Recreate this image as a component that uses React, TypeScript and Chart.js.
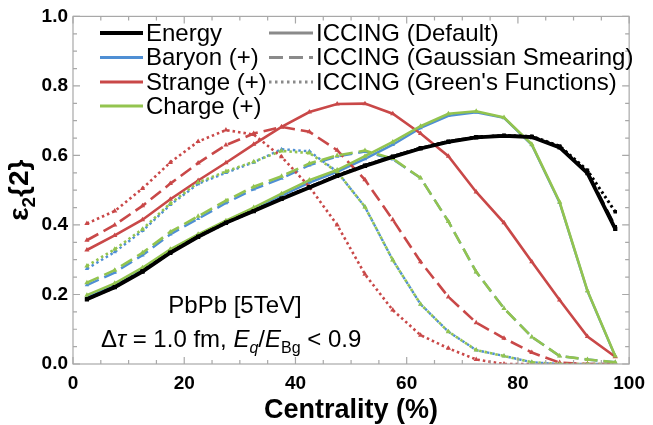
import { useEffect, useRef } from "react";
import { Chart, registerables } from "chart.js";

Chart.register(...registerables);

// Centrality bin centres (%)
const centrality = [2.5, 7.5, 12.5, 17.5, 22.5, 27.5, 32.5, 37.5, 42.5, 47.5, 52.5, 57.5, 62.5, 67.5, 72.5, 77.5, 82.5, 87.5, 92.5, 97.5];

// eps_2{2} for each conserved charge and ICCING sampling method
const energyDefault = [0.186, 0.221, 0.266, 0.32, 0.366, 0.406, 0.44, 0.475, 0.508, 0.541, 0.57, 0.596, 0.62, 0.639, 0.652, 0.656, 0.653, 0.623, 0.549, 0.389];
const energyGaussian = [0.187, 0.222, 0.267, 0.321, 0.367, 0.407, 0.441, 0.476, 0.509, 0.542, 0.571, 0.597, 0.621, 0.64, 0.653, 0.657, 0.654, 0.624, 0.551, 0.395];
const energyGreens = [0.186, 0.221, 0.267, 0.321, 0.366, 0.406, 0.441, 0.476, 0.509, 0.542, 0.571, 0.597, 0.621, 0.64, 0.653, 0.657, 0.655, 0.627, 0.557, 0.438];

const baryonDefault = [0.192, 0.226, 0.271, 0.325, 0.368, 0.407, 0.445, 0.484, 0.522, 0.553, 0.59, 0.631, 0.679, 0.714, 0.724, 0.708, 0.63, 0.464, 0.21, 0.022];
const baryonGaussian = [0.227, 0.263, 0.313, 0.373, 0.418, 0.463, 0.503, 0.534, 0.572, 0.597, 0.611, 0.589, 0.535, 0.41, 0.265, 0.16, 0.078, 0.023, 0.013, 0.005];
const baryonGreens = [0.274, 0.322, 0.383, 0.458, 0.518, 0.55, 0.58, 0.618, 0.612, 0.553, 0.452, 0.299, 0.172, 0.093, 0.04, 0.023, 0.005, 0, 0, 0];

const strangeDefault = [0.328, 0.37, 0.415, 0.474, 0.528, 0.579, 0.632, 0.682, 0.725, 0.748, 0.749, 0.72, 0.663, 0.598, 0.495, 0.406, 0.294, 0.184, 0.079, 0.021];
const strangeGaussian = [0.356, 0.4, 0.455, 0.519, 0.578, 0.63, 0.663, 0.682, 0.668, 0.615, 0.53, 0.415, 0.294, 0.193, 0.119, 0.074, 0.033, 0.004, 0, 0];
const strangeGreens = [0.404, 0.44, 0.505, 0.58, 0.64, 0.673, 0.66, 0.596, 0.51, 0.4, 0.258, 0.155, 0.083, 0.045, 0.013, 0, 0, 0, 0, 0];

const chargeDefault = [0.198, 0.232, 0.277, 0.33, 0.373, 0.412, 0.45, 0.49, 0.529, 0.558, 0.598, 0.639, 0.684, 0.72, 0.727, 0.709, 0.632, 0.466, 0.211, 0.023];
const chargeGaussian = [0.234, 0.27, 0.32, 0.38, 0.425, 0.47, 0.51, 0.54, 0.577, 0.6, 0.614, 0.591, 0.535, 0.41, 0.265, 0.16, 0.078, 0.023, 0.013, 0.005];
const chargeGreens = [0.282, 0.33, 0.388, 0.462, 0.522, 0.554, 0.582, 0.613, 0.607, 0.553, 0.452, 0.299, 0.172, 0.093, 0.04, 0.023, 0.005, 0, 0, 0];

const xTicks = [0, 20, 40, 60, 80, 100];
const yTicks = [0, 0.2, 0.4, 0.6, 0.8, 1.0];

const speciesLabels = ["Energy", "Baryon (+)", "Strange (+)", "Charge (+)"];
const methodLabels = ["ICCING (Default)", "ICCING (Gaussian Smearing)", "ICCING (Green's Functions)"];
const boxLabel = "PbPb [5TeV]";

const FONT = 'Arial, "Liberation Sans", Helvetica, sans-serif';
const BLACK = "#000000";
const BLUE = "#4f8fd4";
const RED = "#c94848";
const GREEN = "#93c44f";
const GRAY = "#8a8a8a";
const FRAME = "#a8a8a8";

const DASH = [13, 6];
const DOT = [2.5, 3];

type Seg = { t: string; italic?: boolean; sub?: boolean; bold?: boolean; size?: number };

function drawSegments(ctx: CanvasRenderingContext2D, segs: Seg[], x: number, y: number, base: number, align: "left" | "center") {
  const fontOf = (s: Seg) => {
    const size = s.size ?? (s.sub ? Math.round(base * 0.68) : base);
    return `${s.italic ? "italic " : ""}${s.bold ? "bold " : ""}${size}px ${FONT}`;
  };
  let total = 0;
  for (const s of segs) {
    ctx.font = fontOf(s);
    total += ctx.measureText(s.t).width;
  }
  let cx = align === "center" ? x - total / 2 : x;
  for (const s of segs) {
    ctx.font = fontOf(s);
    ctx.fillText(s.t, cx, y + (s.sub ? base * 0.25 : 0));
    cx += ctx.measureText(s.t).width;
  }
}

const decorPlugin = {
  id: "decor",
  afterDatasetsDraw(chart: any) {
    const { ctx, chartArea: a, scales } = chart;
    const xs = scales.x;
    const ys = scales.y;
    ctx.save();

    // frame with inward ticks on all four sides
    ctx.strokeStyle = FRAME;
    ctx.lineWidth = 1.2;
    ctx.strokeRect(a.left, a.top, a.right - a.left, a.bottom - a.top);
    ctx.beginPath();
    for (let v = 0; v <= 100; v += 5) {
      const px = xs.getPixelForValue(v);
      const len = v % 20 === 0 ? 7 : 4;
      ctx.moveTo(px, a.bottom);
      ctx.lineTo(px, a.bottom - len);
      ctx.moveTo(px, a.top);
      ctx.lineTo(px, a.top + len);
    }
    for (let i = 0; i <= 20; i++) {
      const v = i * 0.05;
      const py = ys.getPixelForValue(v);
      const len = i % 4 === 0 ? 7 : 4;
      ctx.moveTo(a.left, py);
      ctx.lineTo(a.left + len, py);
      ctx.moveTo(a.right, py);
      ctx.lineTo(a.right - len, py);
    }
    ctx.stroke();

    // legend
    ctx.fillStyle = BLACK;
    ctx.textBaseline = "middle";
    ctx.textAlign = "left";
    ctx.font = `24px ${FONT}`;
    const rows = [33, 57.5, 82, 106];
    const colors = [BLACK, BLUE, RED, GREEN];
    speciesLabels.forEach((lab, i) => {
      ctx.beginPath();
      ctx.setLineDash([]);
      ctx.strokeStyle = colors[i];
      ctx.lineWidth = i === 0 ? 4 : 3;
      ctx.moveTo(100, rows[i]);
      ctx.lineTo(143, rows[i]);
      ctx.stroke();
      ctx.fillText(lab, 146, rows[i] + 1);
    });
    const dashes = [[], [14, 6], [2.5, 3.5]];
    methodLabels.forEach((lab, i) => {
      ctx.beginPath();
      ctx.setLineDash(dashes[i]);
      ctx.strokeStyle = GRAY;
      ctx.lineWidth = 3;
      ctx.moveTo(269, rows[i]);
      ctx.lineTo(313, rows[i]);
      ctx.stroke();
      ctx.setLineDash([]);
      ctx.fillText(lab, 316, rows[i] + 1);
    });

    // annotation box text
    ctx.textBaseline = "alphabetic";
    ctx.textAlign = "left";
    drawSegments(ctx, [{ t: boxLabel }], 235, 313, 24, "center");
    drawSegments(
      ctx,
      [
        { t: "Δ" },
        { t: "τ", italic: true },
        { t: " = 1.0 fm, " },
        { t: "E", italic: true },
        { t: "q", italic: true, sub: true },
        { t: "/" },
        { t: "E", italic: true },
        { t: "Bg", sub: true },
        { t: " < 0.9" },
      ],
      101,
      347,
      24,
      "left"
    );

    // axis titles
    ctx.font = `bold 27px ${FONT}`;
    ctx.textAlign = "center";
    ctx.fillText("Centrality (%)", (a.left + a.right) / 2, 418);

    ctx.save();
    ctx.translate(28, (a.top + a.bottom) / 2);
    ctx.rotate(-Math.PI / 2);
    ctx.textAlign = "left";
    drawSegments(
      ctx,
      [
        { t: "ε", bold: true, size: 28 },
        { t: "2", bold: true, sub: true, size: 19 },
        { t: "{2}", bold: true, size: 28 },
      ],
      0,
      0,
      28,
      "center"
    );
    ctx.restore();

    ctx.restore();
  },
};

function series(label: string, data: number[], color: string, dash: number[], width: number, order: number, pointStyle: string, radius: number) {
  return {
    label,
    data: centrality.map((c, i) => ({ x: c, y: data[i] })),
    borderColor: color,
    backgroundColor: color,
    borderWidth: width,
    borderDash: dash,
    borderCapStyle: "butt",
    pointRadius: radius,
    pointBorderWidth: 0,
    pointStyle,
    tension: 0,
    order,
    fill: false,
  };
}

export default function App() {
  const ref = useRef<HTMLCanvasElement | null>(null);

  useEffect(() => {
    if (!ref.current) return;
    const datasets = [
      series("Energy default", energyDefault, BLACK, [], 3.8, 0, "rect", 3),
      series("Energy gaussian", energyGaussian, BLACK, DASH, 3, 1, "rect", 2.5),
      series("Energy greens", energyGreens, BLACK, DOT, 3, 1, "rect", 2.5),
      series("Charge default", chargeDefault, GREEN, [], 2.6, 2, "triangle", 3),
      series("Charge gaussian", chargeGaussian, GREEN, DASH, 2.6, 2, "triangle", 3),
      series("Charge greens", chargeGreens, GREEN, DOT, 2.6, 2, "triangle", 3),
      series("Baryon default", baryonDefault, BLUE, [], 2.4, 4, "triangle", 2.5),
      series("Baryon gaussian", baryonGaussian, BLUE, DASH, 2.4, 4, "triangle", 2.5),
      series("Baryon greens", baryonGreens, BLUE, DOT, 2.4, 4, "triangle", 2.5),
      series("Strange default", strangeDefault, RED, [], 2.6, 3, "triangle", 3),
      series("Strange gaussian", strangeGaussian, RED, DASH, 2.6, 3, "triangle", 3),
      series("Strange greens", strangeGreens, RED, DOT, 2.6, 3, "triangle", 3),
    ];
    const chart = new Chart(ref.current, {
      type: "line",
      data: { datasets: datasets as any },
      options: {
        animation: false,
        responsive: false,
        devicePixelRatio: 1,
        layout: { padding: { top: 16, right: 19, left: 0, bottom: 0 } },
        plugins: { legend: { display: false }, tooltip: { enabled: false } },
        scales: {
          x: {
            type: "linear",
            min: 0,
            max: 100,
            afterBuildTicks: (s: any) => {
              s.ticks = xTicks.map((v) => ({ value: v }));
            },
            afterFit: (s: any) => {
              s.height = 61;
            },
            grid: { display: false, drawTicks: false },
            border: { display: false },
            ticks: {
              color: BLACK,
              font: { family: FONT, size: 19, weight: "bold" },
              padding: 8,
              maxRotation: 0,
              autoSkip: false,
            },
          },
          y: {
            type: "linear",
            min: 0,
            max: 1,
            afterBuildTicks: (s: any) => {
              s.ticks = yTicks.map((v) => ({ value: v }));
            },
            afterFit: (s: any) => {
              s.width = 73;
            },
            grid: { display: false, drawTicks: false },
            border: { display: false },
            ticks: {
              color: BLACK,
              font: { family: FONT, size: 19, weight: "bold" },
              padding: 5,
              callback: (v: any) => Number(v).toFixed(1),
            },
          },
        },
      },
      plugins: [decorPlugin],
    } as any);
    return () => chart.destroy();
  }, []);

  return (
    <div style={{ position: "absolute", left: 0, top: 0, width: 653, height: 425, background: "#fff" }}>
      <canvas ref={ref} width={653} height={425} style={{ display: "block" }} />
    </div>
  );
}
